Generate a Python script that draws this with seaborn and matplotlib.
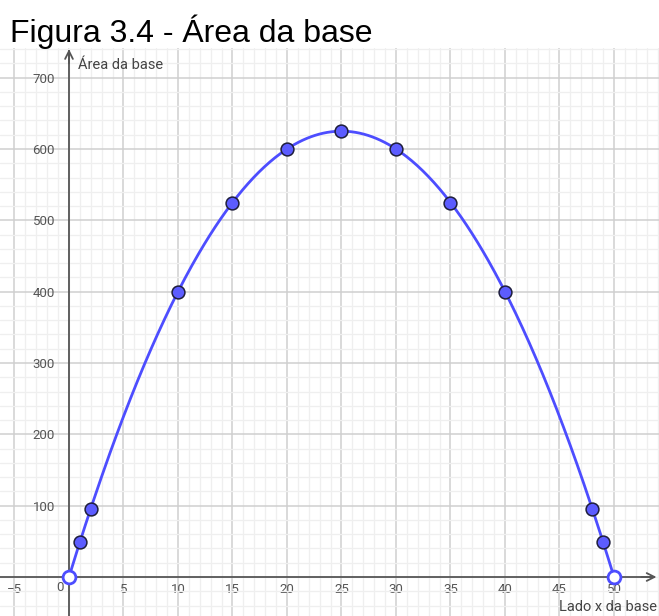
import numpy as np
import pandas as pd
import matplotlib
matplotlib.use("Agg")
import matplotlib.pyplot as plt
import seaborn as sns

# ---- data ----
lado_x = [0, 1, 2, 10, 15, 20, 25, 30, 35, 40, 48, 49, 50]
area = [0, 49, 96, 400, 525, 600, 625, 600, 525, 400, 96, 49, 0]
aberto = [True, False, False, False, False, False, False, False, False, False, False, False, True]
coef_curva = [-1, 50, 0]          # A(x) = -x^2 + 50x
dominio = [0, 50]
x_ticks = [-5, 5, 10, 15, 20, 25, 30, 35, 40, 45, 50]
x_tick_labels = ["\u22125", "5", "10", "15", "20", "25", "30", "35", "40", "45", "50"]
y_ticks = [100, 200, 300, 400, 500, 600, 700]

sns.set_theme(style="white")
plt.rcParams["font.family"] = ["Roboto", "DejaVu Sans"]

W, H = 659, 616
fig = plt.figure(figsize=(W / 100, H / 100), dpi=100)
ax = fig.add_axes([0, 0, 1, (H - 48) / H])

xmin, xmax = -6.33, 54.13
ymin, ymax = -54.7, 741.6
ax.set_xlim(xmin, xmax)
ax.set_ylim(ymin, ymax)

# grid
ax.set_xticks(np.arange(-5, 55, 1), minor=True)
ax.set_yticks(np.arange(-40, 741, 20), minor=True)
ax.set_xticks(x_ticks)
ax.set_yticks(y_ticks)
ax.grid(which="minor", color="#efefef", lw=0.9)
ax.grid(which="major", color="#cfcfcf", lw=1.1)
ax.axvline(0, color="#cfcfcf", lw=1.1, zorder=0)
ax.set_axisbelow(True)

# axes through origin
for s in ["top", "right"]:
    ax.spines[s].set_visible(False)
ax.spines["left"].set_position(("data", 0))
ax.spines["bottom"].set_position(("data", 0))
for s in ["left", "bottom"]:
    ax.spines[s].set_color("#555555")
    ax.spines[s].set_linewidth(1.3)
ax.spines["left"].set_bounds(ymin, 738)
ax.spines["bottom"].set_bounds(xmin, 53.6)
ax.tick_params(axis="both", which="both", length=0)
ax.tick_params(axis="x", pad=4, labelsize=9.5, labelcolor="#555555")
ax.tick_params(axis="y", pad=10, labelsize=9.5, labelcolor="#555555")
ax.set_xticklabels(x_tick_labels)
ax.set_yticklabels([str(t) for t in y_ticks])
ax.text(-0.8, -6, "0", ha="center", va="top", fontsize=9.5, color="#555555")

# arrow heads
ax.annotate("", xy=(53.9, 0), xytext=(52.5, 0),
            arrowprops=dict(arrowstyle="->", color="#555555", lw=1.3,
                            shrinkA=0, shrinkB=0, mutation_scale=14))
ax.annotate("", xy=(0, 740), xytext=(0, 720),
            arrowprops=dict(arrowstyle="->", color="#555555", lw=1.3,
                            shrinkA=0, shrinkB=0, mutation_scale=14))

# curve
xs = np.linspace(dominio[0], dominio[1], 400)
curva = pd.DataFrame({"x": xs, "y": np.polyval(coef_curva, xs)})
sns.lineplot(data=curva, x="x", y="y", ax=ax, color="#4d4dff", lw=2, zorder=3)

df = pd.DataFrame({"x": lado_x, "y": area, "aberto": aberto})
sns.scatterplot(data=df[~df.aberto], x="x", y="y", ax=ax, s=85,
                color="#5c5cff", edgecolor="#1e1e3c", linewidth=1.1, zorder=4)
sns.scatterplot(data=df[df.aberto], x="x", y="y", ax=ax, s=85,
                color="white", edgecolor="#4d4dff", linewidth=2, zorder=4)

ax.set_xlabel("")
ax.set_ylabel("")

ax.text(0.8, 728, "Área da base", fontsize=10.5, color="#444444", ha="left", va="top")
fig.text(657 / W, 2 / H, "Lado x da base", fontsize=10.5, color="#444444",
         ha="right", va="bottom")

fig.text(10 / W, 1 - 42 / H, "Figura 3.4 - Área da base", fontsize=23,
         family=["Liberation Sans", "DejaVu Sans"], color="black",
         ha="left", va="baseline")

fig.savefig("out.png", dpi=100)
